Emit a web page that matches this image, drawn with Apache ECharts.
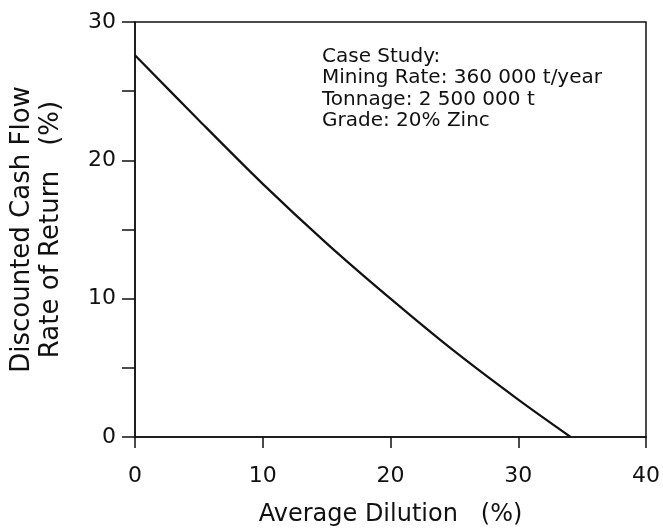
<!DOCTYPE html>
<html>
<head>
<meta charset="utf-8">
<script src="https://cdn.jsdelivr.net/npm/echarts@6/dist/echarts.min.js"></script>
<style>
  html, body { margin: 0; padding: 0; background: #fff; }
  #chart { width: 663px; height: 532px; }
</style>
</head>
<body>
<div id="chart"></div>
<script>
'use strict';

// average dilution (%) vs DCF rate of return (%)
const dilution = [0, 5, 10, 15, 20, 25, 30, 34.1];
const rateOfReturn = [27.6, 22.9, 18.3, 14.0, 10.0, 6.2, 2.7, 0];
const noteLines = [
    'Case Study:',
    'Mining Rate: 360 000 t/year',
    'Tonnage: 2 500 000 t',
    'Grade: 20% Zinc'
];

(function () {
    const ink = '#111';
    const font = '"DejaVu Sans", "Liberation Sans", sans-serif';
    const chart = echarts.init(document.getElementById('chart'));

    chart.setOption({
        animation: false,
        backgroundColor: '#fff',
        textStyle: { fontFamily: font, color: ink },
        grid: {
            left: 135,
            right: 15,
            top: 22,
            bottom: 93,
            show: true,
            borderColor: ink,
            borderWidth: 1.5
        },
        xAxis: {
            type: 'value',
            min: 0,
            max: 40,
            interval: 10,
            name: 'Average Dilution   (%)',
            nameLocation: 'middle',
            nameGap: 66,
            nameTextStyle: { fontSize: 24, color: ink, fontFamily: font },
            axisLine: { lineStyle: { color: ink, width: 1.5 } },
            axisTick: { length: 11, lineStyle: { color: ink, width: 1.5 } },
            axisLabel: { margin: 28, fontSize: 22, color: ink, fontFamily: font },
            splitLine: { show: false }
        },
        yAxis: {
            type: 'value',
            min: 0,
            max: 30,
            interval: 5,
            name: 'Discounted Cash Flow\nRate of Return   (%)',
            nameLocation: 'middle',
            nameGap: 69,
            nameTextStyle: { fontSize: 26, lineHeight: 29, color: ink, fontFamily: font },
            axisLine: { lineStyle: { color: ink, width: 1.5 } },
            axisTick: { length: 13, lineStyle: { color: ink, width: 1.5 } },
            axisLabel: {
                margin: 19,
                fontSize: 22,
                color: ink,
                fontFamily: font,
                formatter: v => (v % 10 === 0 ? String(v) : '')
            },
            splitLine: { show: false }
        },
        graphic: [{
            type: 'text',
            left: 322,
            top: 46,
            style: {
                text: noteLines.join('\n'),
                font: '20px ' + font,
                lineHeight: 21.5,
                fill: ink
            }
        }],
        series: [{
            type: 'line',
            data: dilution.map((x, i) => [x, rateOfReturn[i]]),
            smooth: 0.3,
            symbol: 'none',
            lineStyle: { color: ink, width: 2.2 }
        }]
    });
})();
</script>
</body>
</html>
